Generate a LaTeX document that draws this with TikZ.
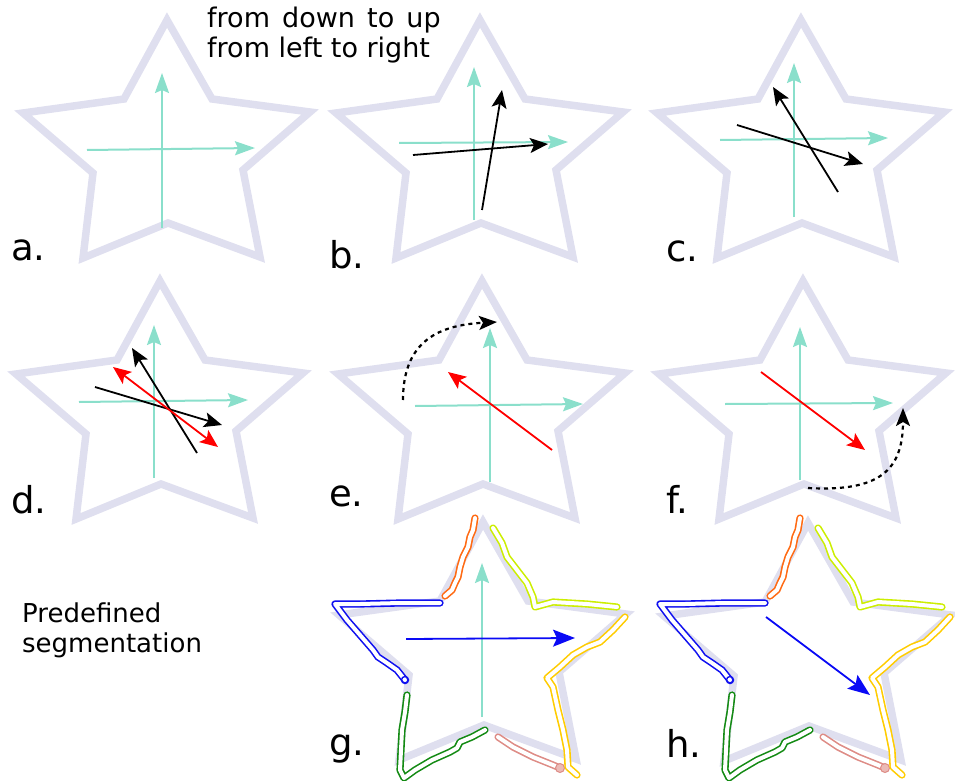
\documentclass[tikz,border=0pt]{standalone}
\usepackage{fontspec}
\setmainfont{DejaVu Sans}
\usetikzlibrary{arrows.meta}
\definecolor{starc}{HTML}{DFDFEF}
\definecolor{axisc}{HTML}{8ADFCB}
\definecolor{segorange}{HTML}{FF6A13}
\definecolor{segblue}{HTML}{1010F0}
\definecolor{seggreen}{HTML}{138A13}
\definecolor{segsalmon}{HTML}{DE8C86}
\definecolor{seggold}{HTML}{FFCC00}
\definecolor{seglime}{HTML}{CCEE00}
\definecolor{arrblue}{HTML}{0A0AF5}
\tikzset{
  starline/.style={draw=starc, line width=7.5pt, line join=miter},
  axisarrow/.style={draw=axisc, line width=2pt, -{Stealth[length=20pt,width=14pt,inset=3pt]}},
  blackarrow/.style={draw=black, line width=1.8pt, -{Stealth[length=18pt,width=15pt,inset=4pt]}},
  redarrow/.style={draw=red, line width=1.8pt, -{Stealth[length=18pt,width=15pt,inset=4pt]}},
  redboth/.style={draw=red, line width=1.8pt, {Stealth[length=18pt,width=15pt,inset=4pt]}-{Stealth[length=18pt,width=15pt,inset=4pt]}},
  bluearrow/.style={draw=arrblue, line width=1.8pt, -{Stealth[length=22pt,width=17pt,inset=4pt]}},
  dasharrow/.style={draw=black, line width=2.2pt, dash pattern=on 4pt off 4pt, -{Stealth[length=18pt,width=14pt,inset=4pt]}},
  segline/.style={line width=1.6pt, double=white, double distance=4pt, line cap=round, line join=round},
  lbl/.style={anchor=base west, font=\fontsize{37}{40}\selectfont, inner sep=0pt},
  txt/.style={anchor=base west, inner sep=0pt},
}
\newcommand{\drawstar}[2]{%
  \begin{scope}[shift={(#1,#2)}]
    \draw[starline] (0,0) -- (45,79) -- (143,92) -- (76,150) -- (93,237) -- (1,203)
      -- (-84,238) -- (-74,153) -- (-144,93) -- (-43,79) -- cycle;
  \end{scope}}
\newcommand{\segoverlay}{%
  \draw[segline, draw=segorange] (475,518) -- (473,530) -- (470,537) -- (468,547) -- (463,557)
    -- (460,567) -- (458,577) -- (455,583) -- (452,590) -- (445,596);
  \draw[segline, draw=segblue] (440,603) -- (400,603) -- (360,604) -- (335,604) -- (347,620)
    -- (360,635) -- (373,650) -- (378,657) -- (387,663) -- (397,670) -- (405,680);
  \draw[segblue, line width=1.4pt] (405,680) circle (3.5);
  \draw[segline, draw=seggreen] (407,695) -- (405,712) -- (402,730) -- (401,750) -- (400,770)
    -- (404,778) -- (415,770) -- (432,760) -- (450,752) -- (457,748) -- (460,742) -- (472,737) -- (485,730);
  \draw[segline, draw=segsalmon] (498,737) -- (513,747) -- (533,757) -- (553,765) -- (560,768);
  \draw[segsalmon, fill=segsalmon!60, line width=1pt] (560,768) circle (4.5);
  \draw[segline, draw=seggold] (625,617) -- (613,630) -- (600,642) -- (587,647) -- (573,655)
    -- (560,667) -- (547,678) -- (553,687) -- (558,710) -- (563,730) -- (567,750) -- (568,767) -- (577,775);
  \draw[segline, draw=seglime] (493,528) -- (502,543) -- (507,557) -- (517,570) -- (527,583)
    -- (533,597) -- (535,607) -- (553,602) -- (587,604) -- (617,607);
}
\begin{document}
\begin{tikzpicture}[x=1pt, y=-1pt]
  \useasboundingbox (0,0) rectangle (955,781);
  % stars
  \drawstar{167}{20}
  \drawstar{480}{20}
  \drawstar{801}{20}
  \drawstar{160}{281}
  \drawstar{482}{281}
  \drawstar{803}{281}
  \drawstar{483}{522}
  \drawstar{808}{523}
  % title
  \node[txt, font=\fontsize{27}{30}\selectfont] (t1) at (207,28) {from\hspace{0.45em}down\hspace{0.45em}to\hspace{0.45em}up};
  \node[txt, font=\fontsize{27}{30}\selectfont] (t2) at (207,58) {from left to right};
  \node[txt, font=\fontsize{26}{30}\selectfont] (p1) at (22,622) {Predefined};
  \node[txt, font=\fontsize{26}{30}\selectfont] (p2) at (22,652) {segmentation};
  % labels
  \node[lbl] (la) at (11,260) {a.};
  \node[lbl] (lb) at (329,268) {b.};
  \node[lbl] (lc) at (666,261) {c.};
  \node[lbl] (ld) at (11,513) {d.};
  \node[lbl] (le) at (329,506) {e.};
  \node[lbl] (lf) at (666,513) {f.};
  \node[lbl] (lg) at (329,755) {g.};
  \node[lbl] (lh) at (666,757) {h.};
  % a
  \draw[axisarrow] (162,228) -- (162,73);
  \draw[axisarrow] (87,150) -- (255,148);
  % b
  \draw[axisarrow] (474,220) -- (474,67);
  \draw[axisarrow] (399,143) -- (568,142);
  \draw[blackarrow] (413,155) -- (548,144);
  \draw[blackarrow] (482,210) -- (502,90);
  % c
  \draw[axisarrow] (794,217) -- (794,63);
  \draw[axisarrow] (720,140) -- (888,138);
  \draw[blackarrow] (737,125) -- (863,164);
  \draw[blackarrow] (838,192) -- (773,87);
  % d
  \draw[axisarrow] (154,478) -- (154,325);
  \draw[axisarrow] (79,402) -- (248,400);
  \draw[blackarrow] (95,387) -- (222,425);
  \draw[blackarrow] (197,453) -- (132,348);
  \draw[redboth] (113,367) -- (218,447);
  % e
  \draw[axisarrow] (490,482) -- (490,328);
  \draw[axisarrow] (415,406) -- (583,404);
  \draw[redarrow] (552,450) -- (448,372);
  \draw[dasharrow] (403,400) .. controls (403,340) and (440,325) .. (497,322);
  % f
  \draw[axisarrow] (800,480) -- (800,327);
  \draw[axisarrow] (725,404) -- (893,403);
  \draw[redarrow] (761,372) -- (865,450);
  \draw[dasharrow] (808,488) .. controls (880,492) and (903,470) .. (903,408);
  % g
  \segoverlay
  \draw[axisarrow] (482,717) -- (482,563);
  \draw[bluearrow] (406,639) -- (575,638);
  % h
  \begin{scope}[shift={(325,0)}]
    \segoverlay
  \end{scope}
  \draw[bluearrow] (766,617) -- (870,695);
\end{tikzpicture}
\end{document}
